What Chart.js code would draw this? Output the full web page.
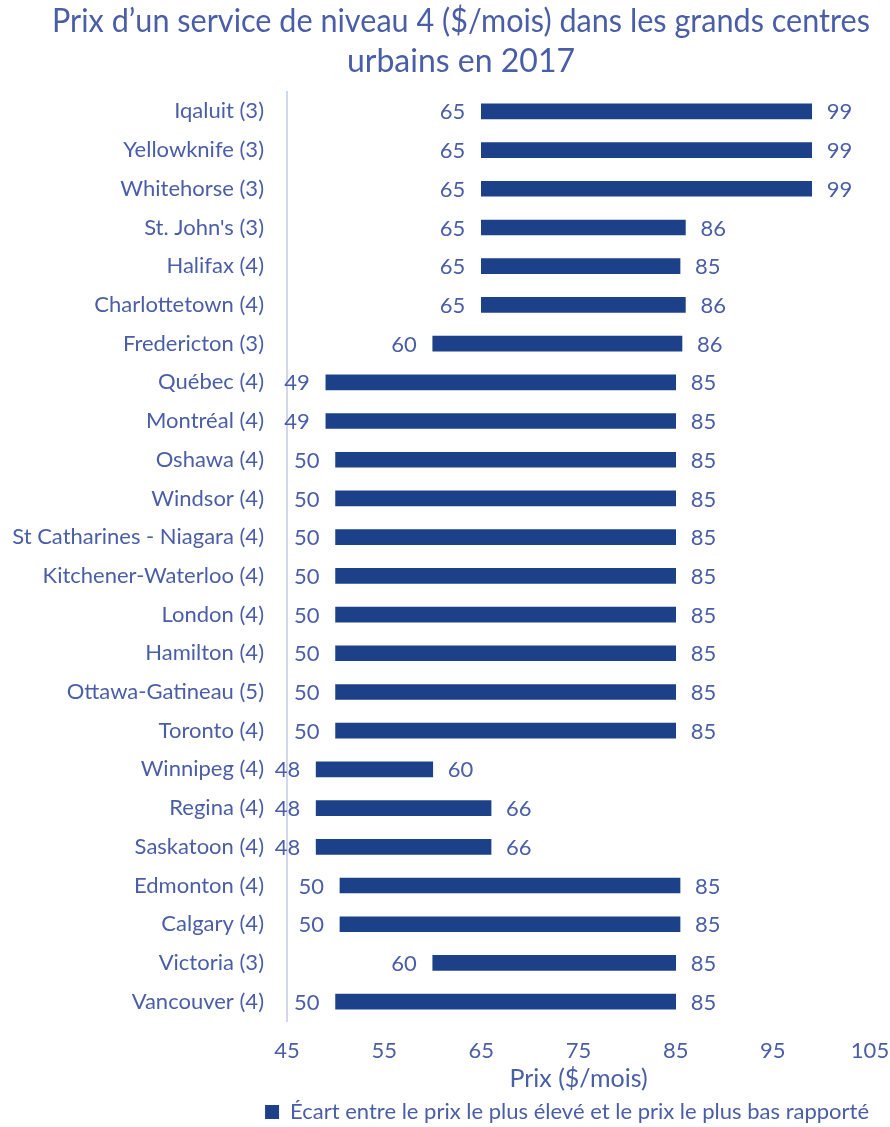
<!DOCTYPE html>
<html>
<head>
<meta charset="utf-8">
<script src="https://cdn.jsdelivr.net/npm/chart.js@4/dist/chart.umd.min.js"></script>
<style>
  html, body { margin: 0; padding: 0; background: #fff; }
  #wrap { width: 890px; height: 1127px; }
</style>
</head>
<body>
<div id="wrap"><canvas id="price-chart"></canvas></div>
<script>
// categories (top to bottom)
const cities = [
	'Iqaluit (3)', 'Yellowknife (3)', 'Whitehorse (3)', "St. John's (3)", 'Halifax (4)',
	'Charlottetown (4)', 'Fredericton (3)', 'Québec (4)', 'Montréal (4)', 'Oshawa (4)',
	'Windsor (4)', 'St Catharines - Niagara (4)', 'Kitchener-Waterloo (4)', 'London (4)',
	'Hamilton (4)', 'Ottawa-Gatineau (5)', 'Toronto (4)', 'Winnipeg (4)', 'Regina (4)',
	'Saskatoon (4)', 'Edmonton (4)', 'Calgary (4)', 'Victoria (3)', 'Vancouver (4)'
];
// lowest and highest reported price ($/month)
const lowPrices = [65, 65, 65, 65, 65, 65, 60, 49, 49, 50, 50, 50, 50, 50, 50, 50, 50, 48, 48, 48, 50.45, 50.45, 60, 50];
const highPrices = [99, 99, 99, 86, 85.45, 86, 85.65, 85, 85, 85, 85, 85, 85, 85, 85, 85, 85, 60, 66, 66, 85.45, 85.45, 85, 85];
const xTicks = [45, 55, 65, 75, 85, 95, 105];

const TEXT = '#4a5ea8';
const BAR = '#1c4189';
const FONT = 'Lato';

const ranges = lowPrices.map((lo, i) => [lo, highPrices[i]]);

// draws the low value left of the bar and the high value right of it
const endLabels = {
	id: 'endLabels',
	afterLayout(chart) {
		// title is centred a bit right of the canvas middle in the original
		if (chart.titleBlock) chart.titleBlock.left = 52;
		// legend sits a little lower
		if (chart.legend) { chart.legend.top += 6; chart.legend.bottom += 6; }
	},
	afterDatasetsDraw(chart) {
		const ctx = chart.ctx;
		const xs = chart.scales.x;
		const meta = chart.getDatasetMeta(0);
		ctx.save();
		ctx.font = '22px ' + FONT;
		ctx.fillStyle = TEXT;
		ctx.textBaseline = 'middle';
		meta.data.forEach((bar, i) => {
			const y = bar.y + 1;
			ctx.textAlign = 'right';
			ctx.fillText(Math.round(lowPrices[i]), xs.getPixelForValue(lowPrices[i]) - 16, y);
			ctx.textAlign = 'left';
			ctx.fillText(Math.round(highPrices[i]), xs.getPixelForValue(highPrices[i]) + 15, y);
		});
		ctx.restore();
	}
};

const ctx = document.getElementById('price-chart').getContext('2d');
const chart = new Chart(ctx, {
	type: 'bar',
	data: {
		labels: cities,
		datasets: [{
			label: 'Écart entre le prix le plus élevé et le prix le plus bas rapporté',
			data: ranges,
			backgroundColor: BAR,
			borderWidth: 0,
			barThickness: 15
		}]
	},
	plugins: [endLabels],
	options: {
		indexAxis: 'y',
		responsive: true,
		maintainAspectRatio: false,
		animation: false,
		layout: { padding: { left: 0, right: 20, top: 0, bottom: 0 } },
		scales: {
			x: {
				min: 45,
				max: 105,
				afterBuildTicks: s => { s.ticks = xTicks.map(v => ({ value: v })); },
				grid: { display: false, drawTicks: false },
				border: { display: false },
				ticks: { color: TEXT, font: { family: FONT, size: 22 }, padding: 17 },
				title: {
					display: true,
					text: 'Prix ($/mois)',
					color: TEXT,
					font: { family: FONT, size: 25 },
					padding: { top: 0, bottom: 0 }
				},
				afterFit: s => { s.height = 73; s.paddingRight = 0; }
			},
			y: {
				grid: { display: false, drawTicks: false },
				border: { display: true, color: '#d3d7ea', width: 2 },
				ticks: { color: TEXT, font: { family: FONT, size: 22 }, padding: 23 },
				afterFit: s => { s.width = 287; }
			}
		},
		plugins: {
			title: {
				display: true,
				text: ["Prix d’un service de niveau 4 ($/mois) dans les grands centres", 'urbains en 2017'],
				color: TEXT,
				font: { family: FONT, size: 32, weight: 'normal', lineHeight: 1.25 },
				padding: { top: 2, bottom: 10 }
			},
			legend: {
				position: 'bottom',
				align: 'end',
				labels: {
					color: TEXT,
					font: { family: FONT, size: 22 },
					boxWidth: 14,
					boxHeight: 14,
					padding: 1
				}
			},
			tooltip: { enabled: false }
		}
	}
});
</script>
</body>
</html>
